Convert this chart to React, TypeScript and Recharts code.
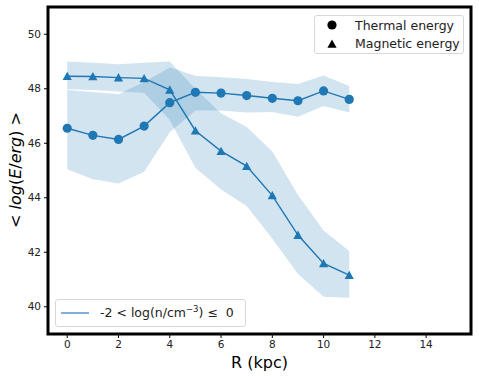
import React from "react"
import { ComposedChart, Line, Area, XAxis, YAxis, ReferenceArea } from "recharts"

const radius = [0, 1, 2, 3, 4, 5, 6, 7, 8, 9, 10, 11]
const thermal = [46.55, 46.29, 46.14, 46.63, 47.49, 47.87, 47.84, 47.75, 47.65, 47.56, 47.92, 47.61]
const thermalLow = [45.05, 44.68, 44.52, 44.95, 46.4, 47.2, 47.2, 47.13, 47.15, 46.97, 47.37, 47.13]
const thermalHigh = [47.95, 47.88, 47.8, 48.25, 48.78, 48.48, 48.42, 48.36, 48.25, 48.17, 48.49, 48.1]
const magnetic = [48.46, 48.45, 48.41, 48.38, 47.96, 46.46, 45.71, 45.16, 44.08, 42.63, 41.59, 41.16]
const magneticLow = [47.98, 47.95, 47.9, 47.85, 46.85, 45.1, 44.3, 43.7, 42.5, 41.2, 40.37, 40.33]
const magneticHigh = [49.0, 48.95, 48.9, 48.95, 49.0, 48.0, 47.1, 46.6, 45.7, 44.1, 42.8, 42.05]
const xTicks = [0, 2, 4, 6, 8, 10, 12, 14]
const yTicks = [40, 42, 44, 46, 48, 50]

const data = radius.map((r, i) => ({
  r,
  thermal: thermal[i],
  thermalBand: [thermalLow[i], thermalHigh[i]],
  magnetic: magnetic[i],
  magneticBand: [magneticLow[i], magneticHigh[i]],
}))

const BLUE = "#1f77b4"
const FONT = "'DejaVu Sans', sans-serif"

const CircleDot = (props: any) => {
  const { cx, cy } = props
  if (cx == null || cy == null) return <g />
  return <circle cx={cx} cy={cy} r={4.6} fill={BLUE} />
}

const TriangleDot = (props: any) => {
  const { cx, cy } = props
  if (cx == null || cy == null) return <g />
  return <path d={`M${cx},${cy - 4.5} L${cx + 4.6},${cy + 3.8} L${cx - 4.6},${cy + 3.8} Z`} fill={BLUE} />
}

const tickStyle = { fill: "#222", fontSize: 10.5, fontFamily: FONT }

export default function App() {
  return (
    <div style={{ position: "absolute", left: 0, top: 0, width: 479, height: 377, background: "#fff" }}>
      <ComposedChart width={479} height={377} data={data} margin={{ top: 7, right: 8, bottom: 0, left: 0 }}>
        <XAxis
          dataKey="r"
          type="number"
          domain={[-0.75, 15.75]}
          ticks={xTicks}
          height={43}
          axisLine={false}
          tickLine={{ stroke: "#000" }}
          tickSize={4}
          tickMargin={3}
          tick={tickStyle}
        />
        <YAxis
          type="number"
          domain={[39, 51]}
          ticks={yTicks}
          width={48}
          axisLine={false}
          tickLine={{ stroke: "#000" }}
          tickSize={4}
          tickMargin={3}
          tick={tickStyle}
        />
        <Area dataKey="magneticBand" type="linear" stroke="none" fill={BLUE} fillOpacity={0.2} isAnimationActive={false} />
        <Area dataKey="thermalBand" type="linear" stroke="none" fill={BLUE} fillOpacity={0.2} isAnimationActive={false} />
        <Line dataKey="thermal" type="linear" stroke={BLUE} strokeWidth={1.4} dot={<CircleDot />} activeDot={false} isAnimationActive={false} />
        <Line dataKey="magnetic" type="linear" stroke={BLUE} strokeWidth={1.4} dot={<TriangleDot />} activeDot={false} isAnimationActive={false} />
        <ReferenceArea x1={-0.75} x2={15.75} y1={39} y2={51} fill="none" stroke="#000" strokeWidth={3} />
      </ComposedChart>

      {/* y axis title */}
      <div
        style={{
          position: "absolute",
          left: 15,
          top: 170,
          transform: "translate(-50%, -50%) rotate(-90deg)",
          whiteSpace: "nowrap",
          fontFamily: FONT,
          fontSize: 16,
          color: "#000",
        }}
      >
        &lt; <i>log</i>(<i>E</i>/<i>erg</i>) &gt;
      </div>

      {/* x axis title */}
      <div
        style={{
          position: "absolute",
          left: 259.5,
          top: 362,
          transform: "translate(-50%, -50%)",
          whiteSpace: "nowrap",
          fontFamily: FONT,
          fontSize: 16,
          color: "#000",
        }}
      >
        R (kpc)
      </div>

      {/* marker legend */}
      <div
        style={{
          position: "absolute",
          left: 314,
          top: 15,
          width: 150,
          height: 39,
          boxSizing: "border-box",
          border: "1px solid #d8d8d8",
          borderRadius: 3,
          background: "rgba(255,255,255,0.8)",
          fontFamily: FONT,
          fontSize: 12.5,
          color: "#222",
        }}
      >
        <svg width={20} height={39} style={{ position: "absolute", left: 7, top: 0 }}>
          <circle cx={10} cy={9} r={4.6} fill="#000" />
          <path d="M10,23.5 L14.6,31.8 L5.4,31.8 Z" fill="#000" />
        </svg>
        <div style={{ position: "absolute", left: 40, top: 1, lineHeight: "17px" }}>Thermal energy</div>
        <div style={{ position: "absolute", left: 40, top: 19, lineHeight: "17px" }}>Magnetic energy</div>
      </div>

      {/* density legend */}
      <div
        style={{
          position: "absolute",
          left: 55,
          top: 299,
          width: 191,
          height: 28,
          boxSizing: "border-box",
          border: "1px solid #d8d8d8",
          borderRadius: 3,
          background: "rgba(255,255,255,0.8)",
          fontFamily: FONT,
          fontSize: 12.5,
          color: "#222",
        }}
      >
        <svg width={30} height={28} style={{ position: "absolute", left: 4, top: -1 }}>
          <line x1={1} x2={29} y1={14} y2={14} stroke="#5b9bd0" strokeWidth={1.6} />
        </svg>
        <div style={{ position: "absolute", left: 44, top: 4, lineHeight: "18px", whiteSpace: "nowrap" }}>
          -2 &lt; log(n/cm<sup style={{ fontSize: 8.5, lineHeight: 0 }}>−3</sup>) ≤ &nbsp;0
        </div>
      </div>
    </div>
  )
}
